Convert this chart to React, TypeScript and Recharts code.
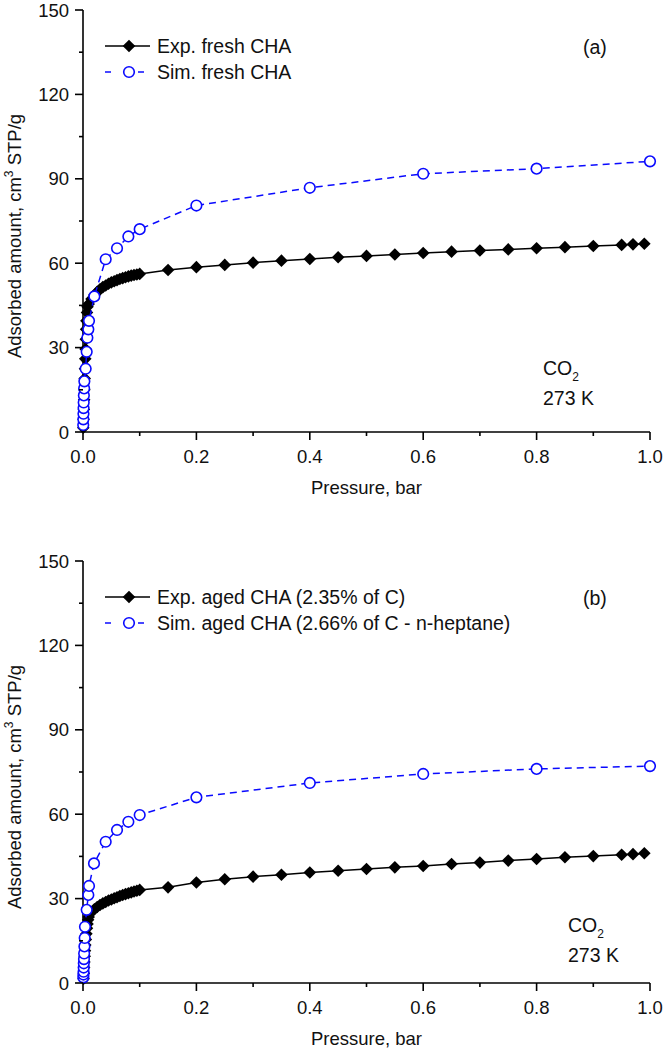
import React from 'react';
import { ScatterChart, Scatter, XAxis, YAxis } from 'recharts';

const FONT = "'Liberation Sans', Arial, Helvetica, sans-serif";
const BLUE = '#0a0aff';

// ---- Panel (a): fresh CHA, CO2 at 273 K ----
const expFreshP = [
  0.0005, 0.001, 0.0015, 0.002, 0.0025, 0.003, 0.0035, 0.004, 0.0045, 0.005, 0.0055, 0.006, 0.007, 0.008,
  0.01, 0.015, 0.02, 0.025, 0.03, 0.035, 0.04, 0.045, 0.05, 0.055, 0.06, 0.065, 0.07, 0.075, 0.08, 0.085, 0.09, 0.095, 0.1,
  0.15, 0.2, 0.25, 0.3, 0.35, 0.4, 0.45, 0.5, 0.55, 0.6, 0.65, 0.7, 0.75, 0.8, 0.85, 0.9, 0.95, 0.97, 0.99,
];
const expFreshQ = [
  1.5, 4.5, 8, 11.5, 15, 19, 22.5, 26, 29.5, 33, 36.5, 39.5, 42.5, 44.5,
  45.5, 47.3, 48.7, 49.8, 50.7, 51.5, 52.1, 52.7, 53.2, 53.6, 54.0, 54.4, 54.7, 55.0, 55.3, 55.6, 55.8, 56.0, 56.2,
  57.6, 58.6, 59.4, 60.2, 60.9, 61.5, 62.1, 62.6, 63.1, 63.6, 64.1, 64.5, 64.9, 65.3, 65.7, 66.1, 66.5, 66.7, 66.9,
];
const simFreshP = [
  0.0004, 0.0006, 0.0008, 0.001, 0.0012, 0.0015, 0.002, 0.0024, 0.0047, 0.0065, 0.0077, 0.0094, 0.0106,
  0.02, 0.04, 0.06, 0.08, 0.1, 0.2, 0.4, 0.6, 0.8, 1.0,
];
const simFreshQ = [
  2.5, 4.5, 6.5, 8.5, 10.5, 13, 15.5, 18, 22.5, 28.5, 33.5, 36.5, 39.5,
  48.2, 61.4, 65.3, 69.5, 72.1, 80.5, 86.8, 91.8, 93.6, 96.2,
];

// ---- Panel (b): aged CHA, CO2 at 273 K ----
const expAgedP = [
  0.001, 0.0015, 0.002, 0.0025, 0.003, 0.0035, 0.004, 0.005, 0.006, 0.007, 0.008, 0.009,
  0.01, 0.015, 0.02, 0.025, 0.03, 0.035, 0.04, 0.045, 0.05, 0.055, 0.06, 0.065, 0.07, 0.075, 0.08, 0.085, 0.09, 0.095, 0.1,
  0.15, 0.2, 0.25, 0.3, 0.35, 0.4, 0.45, 0.5, 0.55, 0.6, 0.65, 0.7, 0.75, 0.8, 0.85, 0.9, 0.95, 0.97, 0.99,
];
const expAgedQ = [
  1.5, 3.5, 5.5, 7.5, 9.5, 11.5, 13.5, 15.5, 17.5, 19.5, 21, 22.5,
  23.5, 25.2, 26.2, 27.0, 27.7, 28.3, 28.8, 29.3, 29.7, 30.1, 30.5, 30.9, 31.3, 31.6, 31.9, 32.2, 32.5, 32.8, 33.1,
  34.0, 35.7, 36.9, 37.8, 38.5, 39.3, 39.9, 40.5, 41.1, 41.6, 42.3, 42.8, 43.5, 44.1, 44.7, 45.1, 45.6, 45.8, 46.1,
];
const simAgedP = [
  0.0006, 0.0008, 0.001, 0.0012, 0.0014, 0.0017, 0.002, 0.0025, 0.003, 0.0035, 0.0065, 0.0094, 0.0106,
  0.0194, 0.04, 0.06, 0.08, 0.1, 0.2, 0.4, 0.6, 0.8, 1.0,
];
const simAgedQ = [
  2, 3, 4, 5.5, 7, 8.5, 10.5, 13, 16, 20, 26, 31.3, 34.5,
  42.5, 50.2, 54.4, 57.3, 59.7, 66.0, 71.1, 74.3, 76.1, 77.1,
];

// ---- Axis ticks ----
const pressureTicks = [0, 0.1, 0.2, 0.3, 0.4, 0.5, 0.6, 0.7, 0.8, 0.9, 1.0];
const amountTicks = [0, 15, 30, 45, 60, 75, 90, 105, 120, 135, 150];

const toPoints = (ps: number[], qs: number[]) => ps.map((p, i) => ({ p, q: qs[i] }));

const isMajorP = (v: number) => Math.round(v * 10) % 2 === 0;
const isMajorQ = (v: number) => Math.round(v) % 30 === 0;
const AXIS_W = 1.6;

const BottomTick = (props: any) => {
  const { x, y, payload } = props;
  const v = payload.value as number;
  const major = isMajorP(v);
  return (
    <g>
      <line x1={x} x2={x} y1={y} y2={y + (major ? 8 : 4)} stroke="#000" strokeWidth={AXIS_W} />
      {major && (
        <text x={x} y={y + 31} textAnchor="middle" fontSize={18.5} fontFamily={FONT} fill="#111">
          {v.toFixed(1)}
        </text>
      )}
    </g>
  );
};

const TopTick = (props: any) => {
  const { x, y, payload } = props;
  const major = isMajorP(payload.value);
  return <line x1={x} x2={x} y1={y} y2={y - (major ? 8 : 4)} stroke="#000" strokeWidth={AXIS_W} />;
};

const LeftTick = (props: any) => {
  const { x, y, payload } = props;
  const v = payload.value as number;
  const major = isMajorQ(v);
  return (
    <g>
      <line x1={x} x2={x - (major ? 8 : 4)} y1={y} y2={y} stroke="#000" strokeWidth={AXIS_W} />
      {major && (
        <text x={x - 14} y={y + 6.6} textAnchor="end" fontSize={18.5} fontFamily={FONT} fill="#111">
          {v}
        </text>
      )}
    </g>
  );
};

const RightTick = (props: any) => {
  const { x, y, payload } = props;
  const major = isMajorQ(payload.value);
  return <line x1={x} x2={x + (major ? 8 : 4)} y1={y} y2={y} stroke="#000" strokeWidth={AXIS_W} />;
};

const Diamond = (props: any) => {
  const { cx, cy } = props;
  if (cx == null || cy == null) return null;
  const h = 6.3;
  return <polygon points={`${cx},${cy - h} ${cx + h},${cy} ${cx},${cy + h} ${cx - h},${cy}`} fill="#000" />;
};

const Ring = (props: any) => {
  const { cx, cy } = props;
  if (cx == null || cy == null) return null;
  return <circle cx={cx} cy={cy} r={5.3} fill="#fff" stroke={BLUE} strokeWidth={1.6} />;
};

type PanelProps = {
  exp: { p: number; q: number }[];
  sim: { p: number; q: number }[];
  expLabel: string;
  simLabel: string;
  tag: string;
  gasX: number;
  gasY: number;
};

const Panel = ({ exp, sim, expLabel, simLabel, tag, gasX, gasY }: PanelProps) => (
  <ScatterChart width={664} height={500} margin={{ top: 10, right: 14, bottom: 0, left: 0 }}>
    <XAxis
      type="number"
      dataKey="p"
      domain={[0, 1]}
      ticks={pressureTicks}
      interval={0}
      height={68}
      tickSize={0}
      tickMargin={0}
      tickLine={false}
      tick={BottomTick}
      axisLine={{ stroke: '#000', strokeWidth: AXIS_W }}
      label={{ value: 'Pressure, bar', position: 'insideBottom', offset: 6, fontSize: 18.5, fontFamily: FONT, fill: '#111' }}
    />
    <XAxis
      xAxisId="top"
      orientation="top"
      type="number"
      dataKey="p"
      domain={[0, 1]}
      ticks={pressureTicks}
      interval={0}
      height={0}
      tickSize={0}
      tickMargin={0}
      tickLine={false}
      tick={TopTick}
      axisLine={{ stroke: '#000', strokeWidth: AXIS_W }}
    />
    <YAxis
      type="number"
      dataKey="q"
      domain={[0, 150]}
      ticks={amountTicks}
      interval={0}
      width={83}
      tickSize={0}
      tickMargin={0}
      tickLine={false}
      tick={LeftTick}
      axisLine={{ stroke: '#000', strokeWidth: AXIS_W }}
    />
    <YAxis
      yAxisId="right"
      orientation="right"
      type="number"
      dataKey="q"
      domain={[0, 150]}
      ticks={amountTicks}
      interval={0}
      width={0}
      tickSize={0}
      tickMargin={0}
      tickLine={false}
      tick={RightTick}
      axisLine={{ stroke: '#000', strokeWidth: AXIS_W }}
    />
    <Scatter
      name={expLabel}
      data={exp}
      isAnimationActive={false}
      fill="#000"
      line={{ stroke: '#000', strokeWidth: 1.5 }}
      lineType="joint"
      shape={Diamond}
    />
    <Scatter
      name={simLabel}
      data={sim}
      isAnimationActive={false}
      fill={BLUE}
      line={{ stroke: BLUE, strokeWidth: 1.5, strokeDasharray: '7 5' }}
      lineType="joint"
      shape={Ring}
    />

    {/* axis title */}
    <text
      transform="translate(21,236) rotate(-90)"
      textAnchor="middle"
      fontSize={18.5}
      fontFamily={FONT}
      fill="#111"
    >
      Adsorbed amount, cm
      <tspan fontSize={12} dy={-8}>3</tspan>
      <tspan dy={8}> STP/g</tspan>
    </text>

    {/* legend */}
    <g fontFamily={FONT} fontSize={19.5} fill="#111">
      <line x1={105} x2={150} y1={46} y2={46} stroke="#000" strokeWidth={1.5} />
      <Diamond cx={129} cy={46} />
      <text x={157} y={53}>{expLabel}</text>
      <line x1={105} x2={111} y1={72} y2={72} stroke={BLUE} strokeWidth={1.5} />
      <line x1={138} x2={144} y1={72} y2={72} stroke={BLUE} strokeWidth={1.5} />
      <Ring cx={129} cy={72} />
      <text x={157} y={79}>{simLabel}</text>
    </g>

    {/* panel tag and conditions */}
    <text x={583} y={54} fontSize={19.5} fontFamily={FONT} fill="#111">{tag}</text>
    <text x={gasX} y={gasY} fontSize={19.5} fontFamily={FONT} fill="#111">
      CO<tspan fontSize={12} dy={6}>2</tspan>
    </text>
    <text x={gasX} y={gasY + 30} fontSize={19.5} fontFamily={FONT} fill="#111">273 K</text>
  </ScatterChart>
);

export default function App() {
  return (
    <div style={{ position: 'absolute', left: 0, top: 0, width: 664, height: 1051, overflow: 'hidden', background: '#fff' }}>
      <div style={{ position: 'absolute', left: 0, top: 0 }}>
        <Panel
          exp={toPoints(expFreshP, expFreshQ)}
          sim={toPoints(simFreshP, simFreshQ)}
          expLabel="Exp. fresh CHA"
          simLabel="Sim. fresh CHA"
          tag="(a)"
          gasX={543}
          gasY={375}
        />
      </div>
      <div style={{ position: 'absolute', left: 0, top: 551 }}>
        <Panel
          exp={toPoints(expAgedP, expAgedQ)}
          sim={toPoints(simAgedP, simAgedQ)}
          expLabel="Exp. aged CHA (2.35% of C)"
          simLabel="Sim. aged CHA (2.66% of C - n-heptane)"
          tag="(b)"
          gasX={568}
          gasY={381}
        />
      </div>
    </div>
  );
}
